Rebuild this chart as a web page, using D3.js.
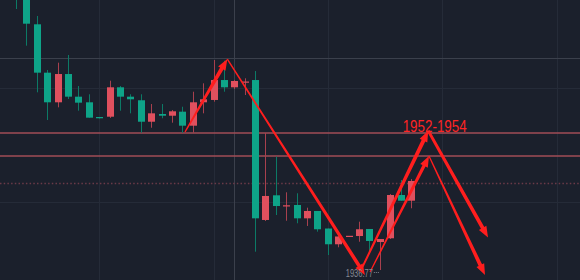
<!DOCTYPE html>
<html>
<head>
<meta charset="utf-8">
<script src="https://cdn.jsdelivr.net/npm/d3@7"></script>
<style>
  html, body { margin: 0; padding: 0; background: #1b202c; overflow: hidden; }
  svg { display: block; }
</style>
</head>
<body>
<div id="chart"></div>
<script>
// Candles, by bar index (green = falling, red = rising)
const opens  = [1975.44, 1973.57, 1969.53, 1963.08, 1959.13, 1962.90, 1959.88, 1959.13, 1957.17, 1957.21,
                1961.13, 1959.88, 1959.40, 1956.54, 1957.57, 1957.34, 1957.88, 1956.01, 1959.13, 1959.44,
                1962.10, 1961.13, 1961.84, 1962.10, 1943.44, 1946.73, 1945.30, 1945.44, 1943.66, 1944.64,
                1942.30, 1940.20, 1941.24, 1941.30, 1942.24, 1940.50, 1941.00, 1946.77, 1946.01];
const highs  = [1976.10, 1974.10, 1970.64, 1963.44, 1964.41, 1965.44, 1961.30, 1960.20, 1957.17, 1962.01,
                1961.30, 1960.20, 1960.20, 1958.90, 1958.90, 1958.10, 1958.54, 1960.54, 1961.66, 1964.77,
                1964.68, 1962.10, 1962.33, 1963.30, 1955.04, 1951.88, 1947.13, 1947.00, 1945.08, 1944.64,
                1942.30, 1941.30, 1941.30, 1943.21, 1942.24, 1940.90, 1946.90, 1948.77, 1948.90];
const lows   = [1971.57, 1966.68, 1960.46, 1956.77, 1958.46, 1959.57, 1958.01, 1957.08, 1956.97, 1957.04,
                1958.01, 1957.66, 1955.08, 1955.74, 1957.00, 1956.41, 1955.08, 1955.08, 1957.66, 1959.21,
                1960.54, 1960.90, 1960.10, 1939.21, 1943.30, 1944.10, 1943.34, 1943.00, 1942.64, 1941.88,
                1938.77, 1939.80, 1941.17, 1940.54, 1939.21, 1936.77, 1940.90, 1946.01, 1945.00];
const closes = [1972.90, 1969.61, 1963.08, 1959.13, 1962.90, 1959.88, 1959.08, 1957.08, 1957.00, 1961.13,
                1959.88, 1959.53, 1956.54, 1957.66, 1957.34, 1957.93, 1956.01, 1959.13, 1959.53, 1962.10,
                1961.13, 1961.97, 1961.90, 1943.66, 1946.64, 1945.30, 1945.40, 1943.66, 1944.64, 1942.20,
                1940.20, 1941.24, 1941.33, 1942.20, 1940.64, 1940.90, 1946.77, 1946.01, 1948.64];

// Levels and grid
const zonePrices = [1955.04, 1951.97];
const lastPrice = 1948.41;
const gridPrices = [1961.00, 1945.80];
const gridIndexes = [8, 19, 30, 41, 52];
const crossIndex = 21;
const crossPrice = 1965.08;

// Hand drawn arrows: [tailIndex, tailPrice, headIndex, headPrice, tailWidth, headWidth]
const arrows = [
  [16.26, 1955.17, 20.33, 1964.90, 1.4, 4.0],
  [20.33, 1964.90, 33.57, 1936.10, 1.4, 3.6],
  [33.19, 1936.77, 39.66, 1955.34, 1.8, 4.0],
  [39.66, 1955.34, 45.41, 1941.10, 2.8, 3.8],
  [34.06, 1936.50, 39.73, 1951.97, 1.2, 3.4],
  [39.73, 1951.97, 45.12, 1936.10, 1.2, 3.8]
];

const zoneLabel = '1952-1954';
const zoneLabelIndex = 37.2;
const zoneLabelPrice = 1955.21;
const lowLabel = '1936.77';
const lowIndex = 35;

class CandleChart {
  constructor(_config) {
    this.config = {
      parentElement: _config.parentElement,
      containerWidth: _config.containerWidth || 580,
      containerHeight: _config.containerHeight || 280
    };
    this.initVis();
  }

  initVis() {
    let vis = this;

    vis.svg = d3.select(vis.config.parentElement).append('svg')
      .attr('width', vis.config.containerWidth)
      .attr('height', vis.config.containerHeight);

    vis.svg.append('rect')
      .attr('width', vis.config.containerWidth)
      .attr('height', vis.config.containerHeight)
      .attr('fill', '#1b202c');

    // bar index -> x, price -> y
    vis.xScale = d3.scaleLinear().domain([0, 38]).range([16, 411]);
    vis.yScale = d3.scaleLinear().domain([1936.77, 1972.77]).range([270, 0]);

    vis.candles = opens.map((o, i) => ({ i: i, o: o, h: highs[i], l: lows[i], c: closes[i] }));

    vis.renderVis();
  }

  renderVis() {
    let vis = this;
    const W = vis.config.containerWidth, H = vis.config.containerHeight;
    const x = vis.xScale, y = vis.yScale;

    // grid
    vis.svg.selectAll('.grid-h')
      .data(gridPrices)
      .join('line')
      .attr('class', 'grid-h')
      .attr('x1', 0).attr('x2', W)
      .attr('y1', d => Math.round(y(d)) + 0.5)
      .attr('y2', d => Math.round(y(d)) + 0.5)
      .attr('stroke', '#252b38');

    vis.svg.selectAll('.grid-v')
      .data(gridIndexes)
      .join('line')
      .attr('class', 'grid-v')
      .attr('y1', 0).attr('y2', H)
      .attr('x1', d => Math.round(x(d)) + 0.5)
      .attr('x2', d => Math.round(x(d)) + 0.5)
      .attr('stroke', '#252b38');

    // crosshair
    vis.svg.append('line')
      .attr('x1', 0).attr('x2', W)
      .attr('y1', Math.round(y(crossPrice)) + 0.5)
      .attr('y2', Math.round(y(crossPrice)) + 0.5)
      .attr('stroke', '#3b404c');
    vis.svg.append('line')
      .attr('y1', 0).attr('y2', H)
      .attr('x1', Math.round(x(crossIndex)) + 0.5)
      .attr('x2', Math.round(x(crossIndex)) + 0.5)
      .attr('stroke', '#3b404c');

    // zone lines
    vis.svg.selectAll('.zone')
      .data(zonePrices)
      .join('line')
      .attr('class', 'zone')
      .attr('x1', 0).attr('x2', W)
      .attr('y1', d => y(d)).attr('y2', d => y(d))
      .attr('stroke', '#a24c56')
      .attr('stroke-width', 1.5);

    // last price (dotted)
    vis.svg.append('line')
      .attr('x1', 0).attr('x2', W)
      .attr('y1', Math.round(y(lastPrice)) + 0.5)
      .attr('y2', Math.round(y(lastPrice)) + 0.5)
      .attr('stroke', '#6b3a48')
      .attr('stroke-width', 1.3)
      .attr('stroke-dasharray', '1.5,2.2');

    // candles
    const up = d => d.c >= d.o;
    vis.svg.selectAll('.wick')
      .data(vis.candles)
      .join('line')
      .attr('class', 'wick')
      .attr('x1', d => Math.round(x(d.i)) + 0.5)
      .attr('x2', d => Math.round(x(d.i)) + 0.5)
      .attr('y1', d => y(d.h))
      .attr('y2', d => y(d.l))
      .attr('stroke', d => up(d) ? '#a8404e' : '#0c7a66');

    vis.svg.selectAll('.body')
      .data(vis.candles)
      .join('rect')
      .attr('class', 'body')
      .attr('x', d => Math.round(x(d.i)) - 3)
      .attr('width', 7)
      .attr('y', d => y(Math.max(d.o, d.c)))
      .attr('height', d => Math.max(1.2, Math.abs(y(d.o) - y(d.c))))
      .attr('fill', d => up(d) ? '#e0505e' : '#0ea488');

    // arrows
    function arrowPath(x1, y1, x2, y2, w0, w1) {
      const dx = x2 - x1, dy = y2 - y1, len = Math.hypot(dx, dy);
      const ux = dx / len, uy = dy / len, nx = -uy, ny = ux;
      const headLen = 11, headW = 8.5;
      const bx = x2 - ux * headLen, by = y2 - uy * headLen;
      const p = d3.path();
      p.moveTo(x1 + nx * w0 / 2, y1 + ny * w0 / 2);
      p.lineTo(bx + nx * w1 / 2, by + ny * w1 / 2);
      p.lineTo(bx + nx * headW / 2, by + ny * headW / 2);
      p.lineTo(x2, y2);
      p.lineTo(bx - nx * headW / 2, by - ny * headW / 2);
      p.lineTo(bx - nx * w1 / 2, by - ny * w1 / 2);
      p.lineTo(x1 - nx * w0 / 2, y1 - ny * w0 / 2);
      p.closePath();
      return p.toString();
    }

    vis.svg.selectAll('.arrow')
      .data(arrows)
      .join('path')
      .attr('class', 'arrow')
      .attr('d', d => arrowPath(x(d[0]), y(d[1]), x(d[2]), y(d[3]), d[4], d[5]))
      .attr('fill', '#ff1e1e');

    // labels
    vis.svg.append('text')
      .attr('x', x(zoneLabelIndex))
      .attr('y', y(zoneLabelPrice))
      .attr('font-family', 'Liberation Sans, Arial, sans-serif')
      .attr('font-size', 16)
      .attr('textLength', 64)
      .attr('lengthAdjust', 'spacingAndGlyphs')
      .attr('fill', '#ff2424')
      .text(zoneLabel);

    const lowX = x(lowIndex), lowY = y(lows[lowIndex]);
    vis.svg.append('text')
      .attr('x', lowX - 7)
      .attr('y', lowY + 7)
      .attr('text-anchor', 'end')
      .attr('font-family', 'Liberation Sans, Arial, sans-serif')
      .attr('font-size', 10)
      .attr('textLength', 27)
      .attr('lengthAdjust', 'spacingAndGlyphs')
      .attr('fill', '#858a94')
      .text(lowLabel);
    vis.svg.append('line')
      .attr('x1', lowX - 6).attr('x2', lowX)
      .attr('y1', lowY + 2.5).attr('y2', lowY + 2.5)
      .attr('stroke', '#7f848e')
      .attr('stroke-dasharray', '1,1');
  }
}

new CandleChart({ parentElement: '#chart' });
</script>
</body>
</html>
